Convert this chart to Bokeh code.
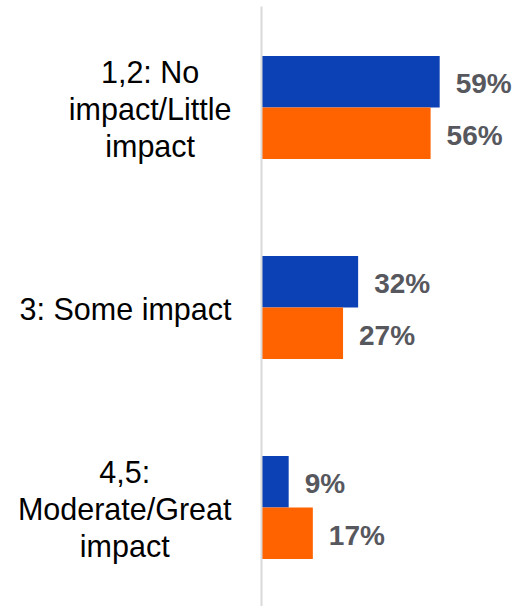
from bokeh.plotting import figure
from bokeh.models import ColumnDataSource, Range1d
from bokeh.core.properties import value
from bokeh.embed import file_html
from bokeh.resources import INLINE

# Survey responses: share of respondents per impact rating
categories = ["1,2: No impact/Little impact", "3: Some impact", "4,5: Moderate/Great impact"]
category_lines = [["1,2: No", "impact/Little", "impact"],
                  ["3: Some impact"],
                  ["4,5:", "Moderate/Great", "impact"]]
series_a = [59, 32, 9]    # blue series (%)
series_b = [56, 27, 17]   # orange series (%)

BLUE = "#0B41B4"
ORANGE = "#FF6300"
LABEL_GREY = "#57575E"
FONT = "Liberation Sans"

W, H = 517, 606
PX_PER_PCT = 3.02          # horizontal scale, pixels per percentage point
AXIS_PX = 261              # pixel position of the zero line
BAND_PX = 200              # vertical space per category
FIRST_CENTER_PX = 107      # centre of the first category band

x_start = -AXIS_PX / PX_PER_PCT
x_end = (W - AXIS_PX) / PX_PER_PCT
y_top = -FIRST_CENTER_PX / BAND_PX
y_bottom = (H - FIRST_CENTER_PX) / BAND_PX

p = figure(width=W, height=H, output_backend="svg", toolbar_location=None,
           x_range=Range1d(x_start, x_end), y_range=Range1d(y_bottom, y_top),
           min_border=0, outline_line_color=None)
p.axis.visible = False
p.grid.visible = False
p.background_fill_color = "white"
p.border_fill_color = "white"

bar_h = 0.257
idx = list(range(len(categories)))

src = ColumnDataSource(dict(
    y_a=[i - bar_h / 2 for i in idx],
    y_b=[i + bar_h / 2 for i in idx],
    a=series_a, b=series_b,
    a_lbl=[f"{v}%" for v in series_a],
    b_lbl=[f"{v}%" for v in series_b],
))

p.hbar(y="y_a", left=0, right="a", height=bar_h, source=src,
       fill_color=BLUE, line_color=None)
p.hbar(y="y_b", left=0, right="b", height=bar_h, source=src,
       fill_color=ORANGE, line_color=None)

# value labels after each bar
for xcol, ycol, tcol in (("a", "y_a", "a_lbl"), ("b", "y_b", "b_lbl")):
    p.text(x=xcol, y=ycol, text=tcol, source=src, x_offset=16, y_offset=2,
           text_align="left", text_baseline="middle",
           text_font=value(FONT), text_font_style="bold",
           text_font_size="28px", text_color=LABEL_GREY)

# zero line
p.segment(x0=[0], x1=[0], y0=[y_top + 6 / BAND_PX], y1=[y_bottom],
          line_color="#D9D9D9", line_width=2)

# category labels: lines centred within a right-aligned block
ADV = {"0": 556, "1": 556, "2": 556, "3": 556, "4": 556, "5": 556, ",": 278,
       ":": 278, " ": 278, "N": 722, "o": 556, "i": 222, "m": 833, "p": 556,
       "a": 556, "c": 500, "t": 278, "/": 278, "L": 556, "l": 222, "e": 556,
       "S": 667, "M": 833, "d": 556, "r": 333, "G": 778}
CAT_FONT_PX = 30.5
LINE_PX = 37
RIGHT_EDGE_PX = 231

def text_width(s):
    return sum(ADV.get(ch, 556) for ch in s) / 1000 * CAT_FONT_PX

lx, ly, lt = [], [], []
for i, lines in enumerate(category_lines):
    block_w = max(text_width(s) for s in lines)
    cx_px = RIGHT_EDGE_PX - block_w / 2
    n = len(lines)
    for k, s in enumerate(lines):
        off = (k - (n - 1) / 2) * LINE_PX
        lx.append((cx_px - AXIS_PX) / PX_PER_PCT)
        ly.append(i + off / BAND_PX)
        lt.append(s)

p.text(x=lx, y=ly, text=lt, text_align="center", text_baseline="middle",
       y_offset=1, text_font=value(FONT), text_font_size=f"{CAT_FONT_PX}px",
       text_color="black")

open("out.html", "w").write(file_html(p, INLINE))
